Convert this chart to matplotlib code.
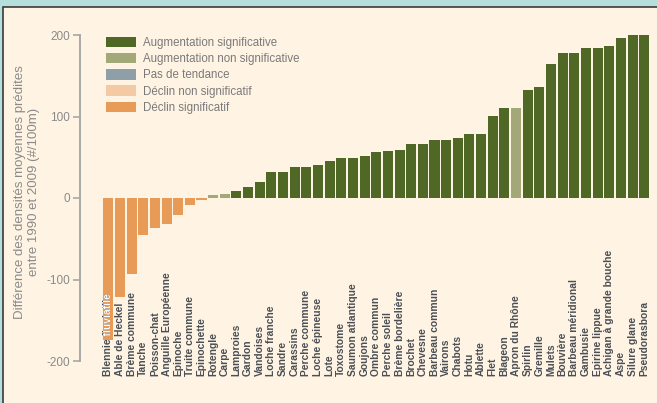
import matplotlib

matplotlib.use("Agg")
import matplotlib.pyplot as plt
from matplotlib.patches import Patch, Rectangle
from matplotlib.transforms import TransformedBbox

plt.rcParams["font.family"] = ["Liberation Sans", "DejaVu Sans"]

# Species, ordered as in the chart
species = [
    "Blennie fluviatile", "Able de Heckel", "Brème commune", "Tanche",
    "Poisson-chat", "Anguille Européenne", "Epinoche", "Truite commune",
    "Epinochette", "Rotengle", "Carpe", "Lamproies", "Gardon", "Vandoises",
    "Loche franche", "Sandre", "Carassins", "Perche commune",
    "Loche épineuse", "Lote", "Toxostome", "Saumon atlantique", "Goujons",
    "Ombre commun", "Perche soleil", "Brème bordelière", "Brochet",
    "Chevesne", "Barbeau commun", "Vairons", "Chabots", "Hotu", "Ablette",
    "Flet", "Blageon", "Apron du Rhône", "Spirlin", "Gremille", "Mulets",
    "Bouvière", "Barbeau méridional", "Gambusie", "Epirine lippue",
    "Achigan à grande bouche", "Aspe", "Silure glane", "Pseudorasbora",
]

# Difference in predicted mean densities 1990-2009 (#/100m)
difference = [
    -174, -122, -93, -46, -37, -32, -21, -8, -3, 3.5, 5, 8.5, 13.5, 19.5,
    32, 32, 38, 38, 40.5, 45.5, 49, 49, 51.5, 56.5, 57.5, 59, 66, 66, 71,
    71, 73.5, 78.5, 78.5, 100.5, 110, 110, 132.5, 136, 164, 178, 178, 184,
    184, 186.5, 196, 199.5, 199.5,
]

# Trend class of each species (index into trend_labels)
trend = [
    4, 4, 4, 4, 4, 4, 4, 4, 4, 1, 1, 0, 0, 0, 0, 0, 0, 0, 0, 0, 0, 0, 0, 0,
    0, 0, 0, 0, 0, 0, 0, 0, 0, 0, 0, 1, 0, 0, 0, 0, 0, 0, 0, 0, 0, 0, 0,
]

trend_labels = [
    "Augmentation significative",
    "Augmentation non significative",
    "Pas de tendance",
    "Déclin non significatif",
    "Déclin significatif",
]
trend_colors = ["#4f6826", "#a2a878", "#8f9fa8", "#f3caa3", "#e89b56"]

yticks = [-200, -100, 0, 100, 200]

W, H = 657, 403
fig = plt.figure(figsize=(W / 100, H / 100), dpi=100)
fig.patch.set_facecolor("#b4dfdb")

# cream panel with dark rule along top and left
fig.add_artist(Rectangle((3 / W, -0.01), 1.0, (H - 7) / H + 0.01,
                         transform=fig.transFigure, facecolor="#fff4e3",
                         edgecolor="#3a3a3a", linewidth=1.2, zorder=0))

ax = fig.add_axes([80 / W, (H - 361) / H, (W - 80) / W, 326 / H])
ax.set_facecolor("none")
ax.set_ylim(-200, 200)
ax.set_xlim(-(108.3 - 80) / 11.65, (W - 108.3) / 11.65)

positions = list(range(len(species)))
colors = [trend_colors[t] for t in trend]
bars = ax.bar(positions, difference, width=0.86, color=colors, zorder=2)

for x, name, bar in zip(positions, species, bars):
    ax.text(x, -218, name, rotation=90, ha="center", va="bottom",
            fontsize=7.4, fontweight="bold", color="#4a4f55", clip_on=False,
            zorder=3)
    # knock-out: part of the label lying on a bar turns white
    t = ax.text(x, -218, name, rotation=90, ha="center", va="bottom",
                fontsize=7.4, fontweight="bold", color="white", zorder=4,
                clip_on=True)
    t.set_clip_box(TransformedBbox(bar.get_bbox(), ax.transData))

ax.set_yticks(yticks)
ax.set_yticklabels([str(v) for v in yticks])
ax.tick_params(axis="y", colors="#a8a8a8", labelcolor="#8a8a8a",
               labelsize=8.5, length=5, width=1.2, pad=2)
ax.tick_params(axis="x", bottom=False, labelbottom=False)
for side in ["top", "right", "bottom"]:
    ax.spines[side].set_visible(False)
ax.spines["left"].set_color("#a8a8a8")
ax.spines["left"].set_linewidth(1.4)
ax.spines["left"].set_bounds(-200, 200)

fig.text(27 / W, 1 - 192 / H,
         "Différence des densités moyennes prédites\nentre 1990 et 2009 (#/100m)",
         rotation=90, ha="center", va="center", fontsize=9.5,
         color="#8a8a8a", linespacing=1.22)

handles = [Patch(facecolor=c, edgecolor="none") for c in trend_colors]
fig.legend(handles, trend_labels, loc="upper left",
           bbox_to_anchor=(106 / W, 1 - 37 / H), frameon=False,
           fontsize=8.3, handlelength=2.6, handleheight=1.0,
           handletextpad=0.65, labelspacing=0.35, borderpad=0,
           borderaxespad=0, labelcolor="#7a7a7a")

fig.savefig("out.png", dpi=100, facecolor=fig.get_facecolor())
